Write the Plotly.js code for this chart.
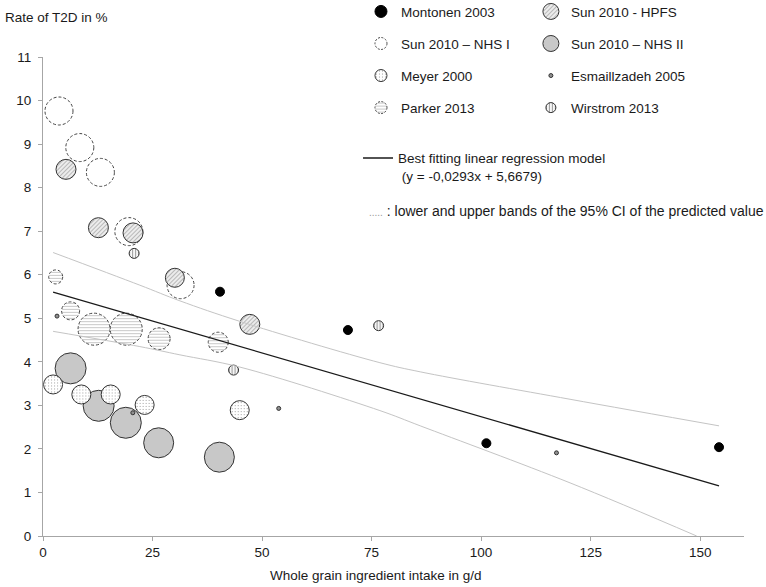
<!DOCTYPE html>
<html><head><meta charset="utf-8">
<script src="https://cdn.plot.ly/plotly-3.0.1.min.js"></script>
<style>html,body{margin:0;padding:0;background:#fff;} #chart{width:766px;height:587px;}</style>
</head><body>
<svg width="0" height="0" style="position:absolute">
<defs>
<pattern id="pHatch" patternUnits="userSpaceOnUse" width="3" height="3" patternTransform="rotate(45)">
<rect width="3" height="3" fill="#ececec"/><line x1="0.5" y1="0" x2="0.5" y2="3" stroke="#b8b8b8" stroke-width="1"/>
</pattern>
<pattern id="pDots" patternUnits="userSpaceOnUse" width="3" height="3">
<rect width="3" height="3" fill="#ffffff"/><rect x="1" y="1" width="1" height="1" fill="#a0a0a0"/>
</pattern>
<pattern id="pHoriz" patternUnits="userSpaceOnUse" width="3" height="3">
<rect width="3" height="3" fill="#ffffff"/><line x1="0" y1="1.5" x2="3" y2="1.5" stroke="#c8c8c8" stroke-width="1"/>
</pattern>
<pattern id="pVert" patternUnits="userSpaceOnUse" width="3" height="3">
<rect width="3" height="3" fill="#f6f6f6"/><line x1="1.5" y1="0" x2="1.5" y2="3" stroke="#9a9a9a" stroke-width="1"/>
</pattern>
</defs></svg>
<div id="chart"></div>
<script>
// ---- data ----
const nhs1X = [3.65, 8.4, 13.1, 19.6, 31.4];
const nhs1Y = [9.76, 8.92, 8.35, 6.99, 5.76];
const nhs1Size = [28, 28, 28, 28, 27];

const parkerX = [2.9, 6.3, 11.65, 19.0, 26.5, 40.0];
const parkerY = [5.95, 5.17, 4.75, 4.75, 4.53, 4.45];
const parkerSize = [14, 18, 32, 32, 22, 20];

const nhs2X = [6.3, 12.7, 18.9, 26.4, 40.25];
const nhs2Y = [3.85, 2.99, 2.60, 2.14, 1.81];
const nhs2Size = [31, 31, 31, 30, 30];

const hpfsX = [5.25, 12.65, 20.55, 30.1, 47.2];
const hpfsY = [8.42, 7.08, 6.96, 5.93, 4.86];
const hpfsSize = [20, 20, 20, 19, 20];

const meyerX = [2.3, 8.75, 15.45, 23.2, 44.9];
const meyerY = [3.48, 3.25, 3.25, 3.01, 2.89];
const meyerSize = [19, 19, 19, 19, 19];

const wirX = [20.8, 43.5, 76.6];
const wirY = [6.49, 3.81, 4.83];
const wirSize = [10, 10, 10];

const esmX = [3.2, 20.5, 53.8, 117.2];
const esmY = [5.05, 2.83, 2.93, 1.91];
const esmSize = [4, 4, 4, 4];

const montX = [40.4, 69.6, 101.2, 154.3];
const montY = [5.61, 4.73, 2.13, 2.04];
const montSize = [9, 9, 9, 9];

const regX = [2.3, 154.3];
const regY = [5.60, 1.15];

const upperX = [2.3, 22.1, 31.25, 44.9, 76.9, 86.1, 120.3, 154.3];
const upperY = [6.51, 5.76, 5.40, 4.93, 3.98, 3.77, 3.14, 2.53];
const lowerX = [2.3, 22.1, 31.25, 44.9, 76.9, 86.1, 120.3, 149.2];
const lowerY = [4.70, 4.35, 4.16, 3.88, 2.88, 2.53, 1.22, 0.0];

const xTicks = [0, 25, 50, 75, 100, 125, 150];
const yTicks = [0, 1, 2, 3, 4, 5, 6, 7, 8, 9, 10, 11];

// ---- chart ----
const FONT = 'Liberation Sans, Arial, sans-serif';
const OUT = '#333333';

function bubble(name, x, y, size, color, legend, rank, lineColor) {
  return {
    type: 'scatter', mode: 'markers', name: name, x: x, y: y,
    legend: legend, legendgroup: name, legendrank: rank,
    marker: {size: size, color: color, opacity: 1, line: {color: lineColor || OUT, width: 1}},
    hoverinfo: 'skip'
  };
}

const data = [
  bubble('Sun 2010 – NHS I', nhs1X, nhs1Y, nhs1Size, '#ffffff', 'legend', 2, '#444'),
  bubble('Parker 2013', parkerX, parkerY, parkerSize, '#ffffff', 'legend', 4, '#444'),
  bubble('Sun 2010 – NHS II', nhs2X, nhs2Y, nhs2Size, '#c8c8c8', 'legend2', 2),
  bubble('Sun 2010 - HPFS', hpfsX, hpfsY, hpfsSize, '#e8e8e8', 'legend2', 1),
  bubble('Meyer 2000', meyerX, meyerY, meyerSize, '#ffffff', 'legend', 3),
  bubble('Wirstrom 2013', wirX, wirY, wirSize, '#eeeeee', 'legend2', 4),
  bubble('Esmaillzadeh 2005', esmX, esmY, esmSize, '#909090', 'legend2', 3),
  bubble('Montonen 2003', montX, montY, montSize, '#000000', 'legend', 1, '#000'),
  {type: 'scatter', mode: 'lines', x: upperX, y: upperY, showlegend: false, hoverinfo: 'skip',
   line: {color: '#c4c4c4', width: 1, shape: 'spline', smoothing: 1}},
  {type: 'scatter', mode: 'lines', x: lowerX, y: lowerY, showlegend: false, hoverinfo: 'skip',
   line: {color: '#c4c4c4', width: 1, shape: 'spline', smoothing: 1}},
  {type: 'scatter', mode: 'lines', x: regX, y: regY, hoverinfo: 'skip',
   name: 'Best fitting linear regression model<br>&nbsp;(y = -0,0293x + 5,6679)',
   legend: 'legend3', line: {color: '#1a1a1a', width: 1.3}}
];

const axisCommon = {
  showgrid: false, zeroline: false, showline: true, linecolor: '#a6a6a6', linewidth: 1,
  ticks: 'outside', ticklen: 4, tickcolor: '#a6a6a6', tickwidth: 1,
  tickfont: {family: FONT, size: 13.5, color: '#1a1a1a'}, fixedrange: true
};

const legendCommon = {
  orientation: 'v', xanchor: 'left', yanchor: 'top', bgcolor: 'rgba(0,0,0,0)',
  font: {family: FONT, size: 13.5, color: '#1a1a1a'}, tracegroupgap: 11.5, traceorder: 'grouped'
};

const layout = {
  width: 766, height: 587,
  margin: {l: 43, r: 22, t: 57, b: 51, autoexpand: false},
  paper_bgcolor: '#ffffff', plot_bgcolor: '#ffffff',
  showlegend: true,
  xaxis: Object.assign({}, axisCommon, {range: [0, 160], tickvals: xTicks, ticklabelstandoff: 0}),
  yaxis: Object.assign({}, axisCommon, {range: [0, 11], tickvals: yTicks, ticklabelstandoff: 4}),
  legend: Object.assign({}, legendCommon, {x: 0.4536, y: 1.127, itemsizing: 'constant'}),
  legend2: Object.assign({}, legendCommon, {x: 0.696, y: 1.127, itemsizing: 'trace'}),
  legend3: Object.assign({}, legendCommon, {x: 0.4494, y: 0.821, valign: 'top'}),
  annotations: [
    {text: 'Rate of T2D in %', xref: 'paper', yref: 'paper', x: -0.0575, y: 1.082,
     xanchor: 'left', yanchor: 'middle', showarrow: false, font: {family: FONT, size: 13.5, color: '#1a1a1a'}},
    {text: 'Whole grain ingredient intake in g/d', xref: 'paper', yref: 'paper', x: 0.4748, y: -0.0815,
     xanchor: 'center', yanchor: 'middle', showarrow: false, font: {family: FONT, size: 13.5, color: '#1a1a1a'}},
    {text: '<span style="color:#999999;font-size:10px">.....</span> : lower and upper bands of the 95% CI of the predicted value',
     xref: 'paper', yref: 'paper', x: 0.462, y: 0.679, xanchor: 'left', yanchor: 'middle', showarrow: false,
     font: {family: FONT, size: 14, color: '#1a1a1a'}}
  ],
  hovermode: false
};

const styles = {
  'Sun 2010 – NHS I': {fill: '#ffffff', dash: '3,2'},
  'Parker 2013': {fill: 'url(#pHoriz)', dash: '3,2'},
  'Sun 2010 - HPFS': {fill: 'url(#pHatch)'},
  'Meyer 2000': {fill: 'url(#pDots)'},
  'Wirstrom 2013': {fill: 'url(#pVert)'}
};

function applyStyles(gd) {
  gd.querySelectorAll('.scatterlayer .trace').forEach(function (el) {
    const d = el.__data__;
    if (!d || !d[0] || !d[0].trace) return;
    const s = styles[d[0].trace.name];
    if (!s) return;
    el.querySelectorAll('path.point').forEach(function (p) {
      if (s.fill) p.style.fill = s.fill;
      if (s.dash) p.style.strokeDasharray = s.dash;
    });
  });
  gd.querySelectorAll('.infolayer .traces').forEach(function (el) {
    const d = el.__data__;
    if (!d || !d[0] || !d[0].trace) return;
    el.querySelectorAll('.legendpoints path.scatterpts').forEach(function (p) {
      p.style.strokeWidth = '1px';
    });
    const s = styles[d[0].trace.name];
    if (!s) return;
    el.querySelectorAll('.legendpoints path.scatterpts').forEach(function (p) {
      if (s.fill) p.style.fill = s.fill;
      if (s.dash) p.style.strokeDasharray = '2,1.5';
    });
  });
}

Plotly.newPlot('chart', data, layout, {displayModeBar: false, staticPlot: true}).then(applyStyles);
</script>
</body></html>
